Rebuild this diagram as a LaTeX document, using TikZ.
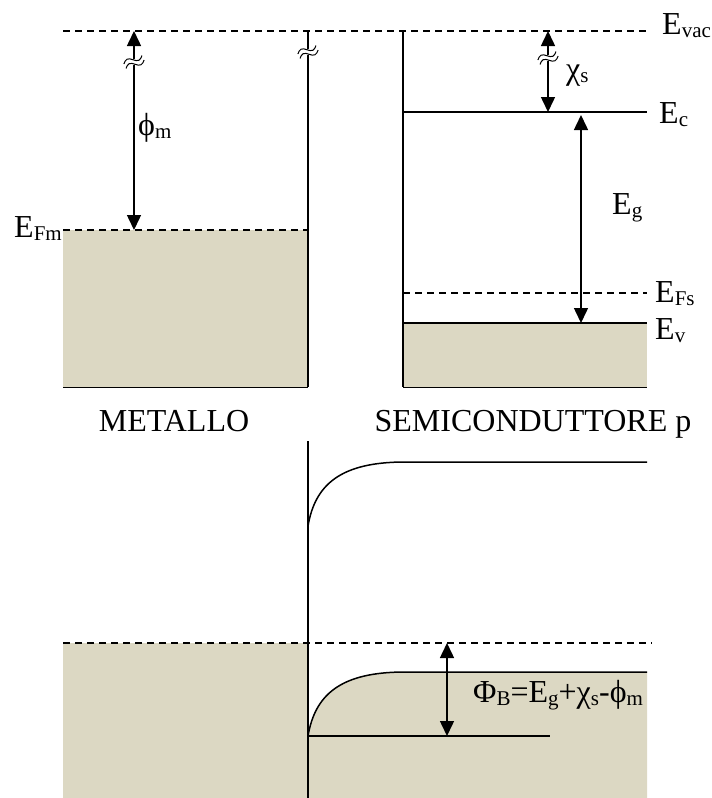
\documentclass[tikz,border=0pt]{standalone}
\usepackage{fontspec}
\setmainfont{Liberation Serif}
\usetikzlibrary{arrows.meta}
\definecolor{band}{RGB}{220,216,195}
\newcommand\sbs[1]{\raisebox{-0.12em}{\fontsize{21}{21}\selectfont #1}}
\begin{document}
\begin{tikzpicture}[x=1pt,y=-1pt,
  lvl/.style={line width=1.5pt},
  thinl/.style={line width=1pt},
  dsh/.style={line width=1.2pt, dash pattern=on 7pt off 5pt},
  dim/.style={line width=1.5pt,{Triangle[width=14pt,length=15pt]}-{Triangle[width=14pt,length=15pt]}},
  lbl/.style={font=\fontsize{32}{36}\selectfont, inner sep=0pt},
  brk/.pic={
    \fill[white] (-8,-2.5) rectangle (8,2.5);
    \draw[line width=1pt] (-10,-2.5) sin (-5,-5.5) cos (0,-2.5) sin (5,0.5) cos (10,-2.5);
    \draw[line width=1pt] (-10,2.5) sin (-5,-0.5) cos (0,2.5) sin (5,5.5) cos (10,2.5);
  }]
\useasboundingbox (0,0) rectangle (712,798);

% ---------- fills ----------
\fill[band] (63,230) rectangle (308,387);
\fill[band] (403,323) rectangle (647,387);
\fill[band] (63,643) rectangle (308,798);
\fill[band] (308,736) .. controls (315,695) and (340,672) .. (405,672) -- (647,672) -- (647,798) -- (308,798) -- cycle;

% ---------- top: coordinates ----------
\coordinate (vacL) at (63,31);
\coordinate (vacR) at (647,31);
\coordinate (mRt) at (308,31);
\coordinate (mRb) at (308,387);
\coordinate (mLb) at (63,387);
\coordinate (fmL) at (63,230);
\coordinate (fmR) at (308,230);
\coordinate (sLt) at (403,31);
\coordinate (sLb) at (403,387);
\coordinate (sRb) at (647,387);
\coordinate (ecL) at (403,112);
\coordinate (ecR) at (647,112);
\coordinate (efL) at (403,293);
\coordinate (efR) at (647,293);
\coordinate (evL) at (403,323);
\coordinate (evR) at (647,323);
\coordinate (phT) at (134,31);
\coordinate (phB) at (134,230);
\coordinate (chT) at (548,31);
\coordinate (chB) at (548,112);
\coordinate (egT) at (581,115);
\coordinate (egB) at (581,323);

\draw[dsh] (vacL) -- (vacR);
\draw[lvl] (mRt) -- (mRb);
\draw[thinl] (mLb) -- (mRb);
\draw[dsh] (fmL) -- (fmR);
\draw[lvl] (sLt) -- (sLb);
\draw[thinl] (sLb) -- (sRb);
\draw[lvl] (ecL) -- (ecR);
\draw[dsh] (efL) -- (efR);
\draw[lvl] (evL) -- (evR);
\draw[dim] (phT) -- (phB);
\draw[dim] (chT) -- (chB);
\draw[dim] (egT) -- (egB);
\pic[rotate=25] at (134,62) {brk};
\pic[rotate=25] at (308,52) {brk};
\pic[rotate=25] at (548,58) {brk};

\node[lbl,anchor=base west] (lvac) at (662,34) {E\sbs{vac}};
\node[lbl,anchor=base west] (lec) at (659,123) {E\sbs{c}};
\node[lbl,anchor=base west] (lefs) at (655,302) {E\sbs{Fs}};
\node[lbl,anchor=base west] (lev) at (655,339) {E\sbs{v}};
\node[lbl,anchor=base west] (leg) at (612,214) {E\sbs{g}};
\node[lbl,anchor=base west] (lchi) at (566,79) {χ\sbs{s}};
\node[lbl,anchor=base west] (lphi) at (138,135) {ϕ\sbs{m}};
\node[lbl,anchor=base east] (lefm) at (62,237) {E\sbs{Fm}};
\node[lbl,anchor=base] (lmet) at (174,431) {METALLO};
\node[lbl,anchor=base] (lsem) at (533,431) {SEMICONDUTTORE p};

% ---------- bottom ----------
\coordinate (iT) at (308,441);
\coordinate (iB) at (308,798);
\coordinate (cS) at (308,526);
\coordinate (cP) at (405,462);
\coordinate (cE) at (647,462);
\coordinate (fL) at (63,643);
\coordinate (fR) at (652,643);
\coordinate (vS) at (308,736);
\coordinate (vP) at (405,672);
\coordinate (vE) at (647,672);
\coordinate (bE) at (550,736);
\coordinate (bT) at (447,643);
\coordinate (bB) at (447,736);

\draw[lvl] (iT) -- (iB);
\draw[lvl] (cS) .. controls (315,485) and (340,462) .. (cP) -- (cE);
\draw[dsh] (fL) -- (fR);
\draw[lvl] (vS) .. controls (315,695) and (340,672) .. (vP) -- (vE);
\draw[lvl] (vS) -- (bE);
\draw[dim] (bT) -- (bB);
\node[lbl,anchor=base west] (lphib) at (473,702) {Φ\sbs{B}=E\sbs{g}+χ\sbs{s}-ϕ\sbs{m}};
\end{tikzpicture}
\end{document}
